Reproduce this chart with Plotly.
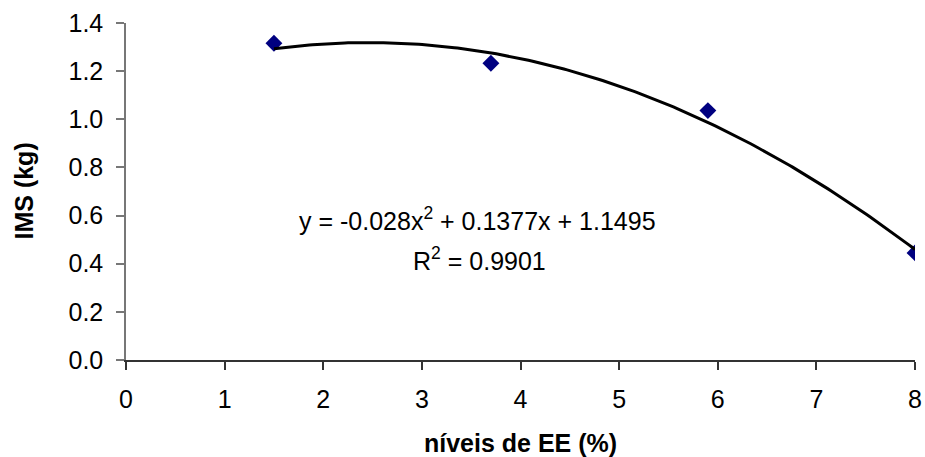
import numpy as np
import plotly.graph_objects as go

# Observed intake (IMS, kg) at each dietary ether-extract level (%)
ee_levels = [1.5, 3.7, 5.9, 8.0]
ims_kg = [1.316, 1.233, 1.036, 0.445]

# Quadratic trendline coefficients (a*x^2 + b*x + c) and fit quality
coef_a, coef_b, coef_c = -0.028, 0.1377, 1.1495
r_squared = 0.9901

x_ticks = [0, 1, 2, 3, 4, 5, 6, 7, 8]
y_ticks = [0.0, 0.2, 0.4, 0.6, 0.8, 1.0, 1.2, 1.4]

x_title = "níveis de EE (%)"
y_title = "IMS (kg)"

FONT = "Liberation Sans, Arial, sans-serif"
FS = 25

trend_x = np.linspace(min(ee_levels), max(ee_levels), 200)
trend_y = coef_a * trend_x**2 + coef_b * trend_x + coef_c

fig = go.Figure()
fig.add_trace(go.Scatter(
    x=ee_levels, y=ims_kg, mode="markers",
    marker=dict(symbol="diamond", size=13, color="#000080",
                line=dict(width=0)),
    showlegend=False, hoverinfo="x+y",
))
fig.add_trace(go.Scatter(
    x=trend_x, y=trend_y, mode="lines",
    line=dict(color="black", width=3),
    showlegend=False, hoverinfo="skip",
))

eq_text = f"y = {coef_a:g}x<sup>2</sup> + {coef_b:g}x + {coef_c:g}"
r2_text = f"R<sup>2</sup> = {r_squared:g}"
text_font = dict(family=FONT, size=FS, color="black")

fig.add_annotation(x=3.56, y=0.585, xref="x", yref="y", text=eq_text,
                   showarrow=False, font=text_font)
fig.add_annotation(x=3.58, y=0.418, xref="x", yref="y", text=r2_text,
                   showarrow=False, font=text_font)

# Axis titles, placed relative to the plot frame
fig.add_annotation(x=0.5, y=0, xref="paper", yref="paper",
                   yshift=-83, yanchor="middle", xanchor="center",
                   text=f"<b>{x_title}</b>", showarrow=False, font=text_font)
fig.add_annotation(x=0, y=0.5, xref="paper", yref="paper",
                   xshift=-103, xanchor="center", yanchor="middle",
                   textangle=-90, text=f"<b>{y_title}</b>",
                   showarrow=False, font=text_font)

fig.update_layout(
    width=925, height=457,
    margin=dict(l=126, r=10, t=23, b=97),
    paper_bgcolor="white", plot_bgcolor="white",
    font=text_font,
    xaxis=dict(
        range=[0, 8], tickvals=x_ticks, ticktext=[str(v) for v in x_ticks],
        showgrid=False, zeroline=False, automargin=False,
        showline=True, linecolor="#333333", linewidth=1.5,
        ticks="outside", ticklen=8, tickcolor="#333333", tickwidth=1.5,
        ticklabelstandoff=8, tickfont=text_font,
    ),
    yaxis=dict(
        range=[0, 1.4], tickvals=y_ticks, ticktext=[f"{v:.1f}" for v in y_ticks],
        showgrid=False, zeroline=False, automargin=False,
        showline=True, linecolor="#777777", linewidth=1.5,
        ticks="outside", ticklen=8, tickcolor="#777777", tickwidth=1.5,
        ticklabelstandoff=8, tickfont=text_font,
    ),
)

fig.write_html("out.html")
